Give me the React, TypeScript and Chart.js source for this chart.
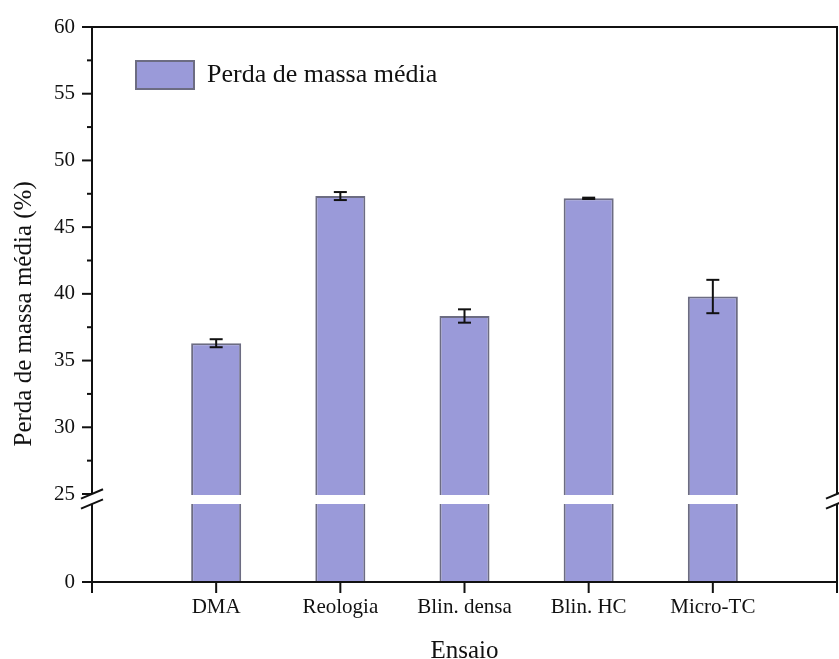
import React, { useEffect, useRef } from 'react';
import { Chart, registerables } from 'chart.js';

Chart.register(...registerables);

// ---- data ----
const categories = ['DMA', 'Reologia', 'Blin. densa', 'Blin. HC', 'Micro-TC'];
const meanLoss = [36.3, 47.33, 38.34, 47.16, 39.8];
const lossError = [0.3, 0.3, 0.5, 0.05, 1.25];
const yMajorTicks = [0, 25, 30, 35, 40, 45, 50, 55, 60];
const yMinorTicks = [27.5, 32.5, 37.5, 42.5, 47.5, 52.5, 57.5];
const seriesLabel = 'Perda de massa média';
const yTitle = 'Perda de massa média (%)   ';
const xTitle = 'Ensaio';

// ---- broken-axis mapping (0–25 compressed, gap, 25–60 linear) ----
const BREAK_AT = 25;
const LOWER_SPAN = 5.846;
const GAP_SPAN = 0.75;
const toAxis = (v: number) =>
  v < BREAK_AT ? (v * LOWER_SPAN) / BREAK_AT : LOWER_SPAN + GAP_SPAN + (v - BREAK_AT);

const FONT = "'Liberation Serif', 'Times New Roman', serif";
const INK = '#111111';

const framePlugin = {
  id: 'brokenFrame',
  afterLayout(chart: any) {
    const lg = chart.legend;
    const ca = chart.chartArea;
    if (lg && ca) {
      const w = lg.width;
      const h = lg.height;
      lg.left = ca.left + 10;
      lg.top = ca.top;
      lg.right = lg.left + w;
      lg.bottom = lg.top + h;
    }
  },
  afterDatasetsDraw(chart: any) {
    const { ctx, chartArea } = chart;
    const { left, right, top, bottom } = chartArea;
    const y = chart.scales.y;
    const x = chart.scales.x;
    const pUp = y.getPixelForValue(LOWER_SPAN + GAP_SPAN);
    const pLow = y.getPixelForValue(LOWER_SPAN);

    ctx.save();
    // white gap across bars
    ctx.fillStyle = '#ffffff';
    ctx.fillRect(left + 1, pUp + 1, right - left - 2, pLow - pUp - 1);

    ctx.strokeStyle = INK;
    ctx.lineWidth = 2;
    ctx.lineCap = 'butt';
    const line = (x1: number, y1: number, x2: number, y2: number) => {
      ctx.beginPath();
      ctx.moveTo(x1, y1);
      ctx.lineTo(x2, y2);
      ctx.stroke();
    };
    // frame
    line(left - 1, top, right + 1, top);
    line(left - 1, bottom, right + 1, bottom);
    line(left, top, left, pUp);
    line(left, pLow, left, bottom + 1);
    line(right, top, right, pUp);
    line(right, pLow, right, bottom + 11);

    // y ticks
    yMajorTicks.forEach((v) => {
      const py = y.getPixelForValue(toAxis(v));
      line(left - 10, py, left, py);
    });
    yMinorTicks.forEach((v) => {
      const py = y.getPixelForValue(toAxis(v));
      line(left - 5, py, left, py);
    });
    // x ticks (every slot, including the empty ends)
    const n = x.getLabels().length;
    for (let i = 0; i < n; i++) {
      const px = x.getPixelForValue(i);
      line(px, bottom, px, bottom + 11);
    }

    // break marks
    const slant = (cx: number, cy: number) => line(cx - 11, cy + 4.7, cx + 11, cy - 4.7);
    [left, right].forEach((cx) => {
      slant(cx, pUp);
      slant(cx, pLow);
    });

    // error bars
    const meta = chart.getDatasetMeta(0);
    meta.data.forEach((el: any, i: number) => {
      const idx = i - 1;
      if (idx < 0 || idx >= meanLoss.length) return;
      const m = meanLoss[idx];
      const e = lossError[idx];
      const yt = y.getPixelForValue(toAxis(m + e));
      const yb = y.getPixelForValue(toAxis(m - e));
      const cx = el.x;
      line(cx, yt, cx, yb);
      line(cx - 6.5, yt, cx + 6.5, yt);
      line(cx - 6.5, yb, cx + 6.5, yb);
    });
    ctx.restore();
  },
};

export default function App() {
  const ref = useRef<HTMLCanvasElement | null>(null);

  useEffect(() => {
    if (!ref.current) return;
    const labels = ['', ...categories, ''];
    const values = [null, ...meanLoss.map(toAxis), null];
    const chart = new Chart(ref.current, {
      type: 'bar',
      data: {
        labels,
        datasets: [
          {
            label: seriesLabel,
            data: values as any,
            backgroundColor: '#9a9ad9',
            borderColor: '#6c6c82',
            borderWidth: 2,
            borderSkipped: 'start',
            categoryPercentage: 1,
            barPercentage: 0.403,
          },
        ],
      },
      options: {
        animation: false,
        responsive: false,
        maintainAspectRatio: false,
        devicePixelRatio: 1,
        layout: { padding: { top: 27, right: 2, left: 0, bottom: 0 } },
        plugins: {
          tooltip: { enabled: false },
          legend: {
            position: 'chartArea' as any,
            align: 'start',
            labels: {
              boxWidth: 58,
              boxHeight: 28,
              padding: 34,
              color: INK,
              font: { family: FONT, size: 26 },
            },
          },
        },
        scales: {
          x: {
            type: 'category',
            offset: false,
            grid: { display: false, drawTicks: true, tickLength: 13 },
            border: { display: false },
            ticks: {
              autoSkip: false,
              maxRotation: 0,
              padding: 0,
              color: INK,
              font: { family: FONT, size: 21 },
            },
            title: {
              display: true,
              text: xTitle,
              color: INK,
              font: { family: FONT, size: 25 },
              padding: { top: 0, bottom: -7 },
            },
            afterFit: (s: any) => {
              s.height = 77;
            },
          },
          y: {
            type: 'linear',
            min: 0,
            max: toAxis(60),
            grid: { display: false, drawTicks: true, tickLength: 17 },
            border: { display: false },
            ticks: {
              autoSkip: false,
              padding: 0,
              color: INK,
              font: { family: FONT, size: 21 },
              callback: (_v: any, i: number) => String(yMajorTicks[i]),
            },
            afterBuildTicks: (s: any) => {
              s.ticks = yMajorTicks.map((v) => ({ value: toAxis(v) }));
            },
            title: {
              display: true,
              text: yTitle,
              color: INK,
              font: { family: FONT, size: 25 },
              padding: { top: 9, bottom: 0 },
            },
            afterFit: (s: any) => {
              s.width = 92;
            },
          },
        },
      },
      plugins: [framePlugin],
    });
    return () => chart.destroy();
  }, []);

  return (
    <div style={{ position: 'fixed', left: 0, top: 0, width: 839, height: 659, background: '#fff' }}>
      <canvas ref={ref} width={839} height={659} style={{ display: 'block', width: 839, height: 659 }} />
    </div>
  );
}
